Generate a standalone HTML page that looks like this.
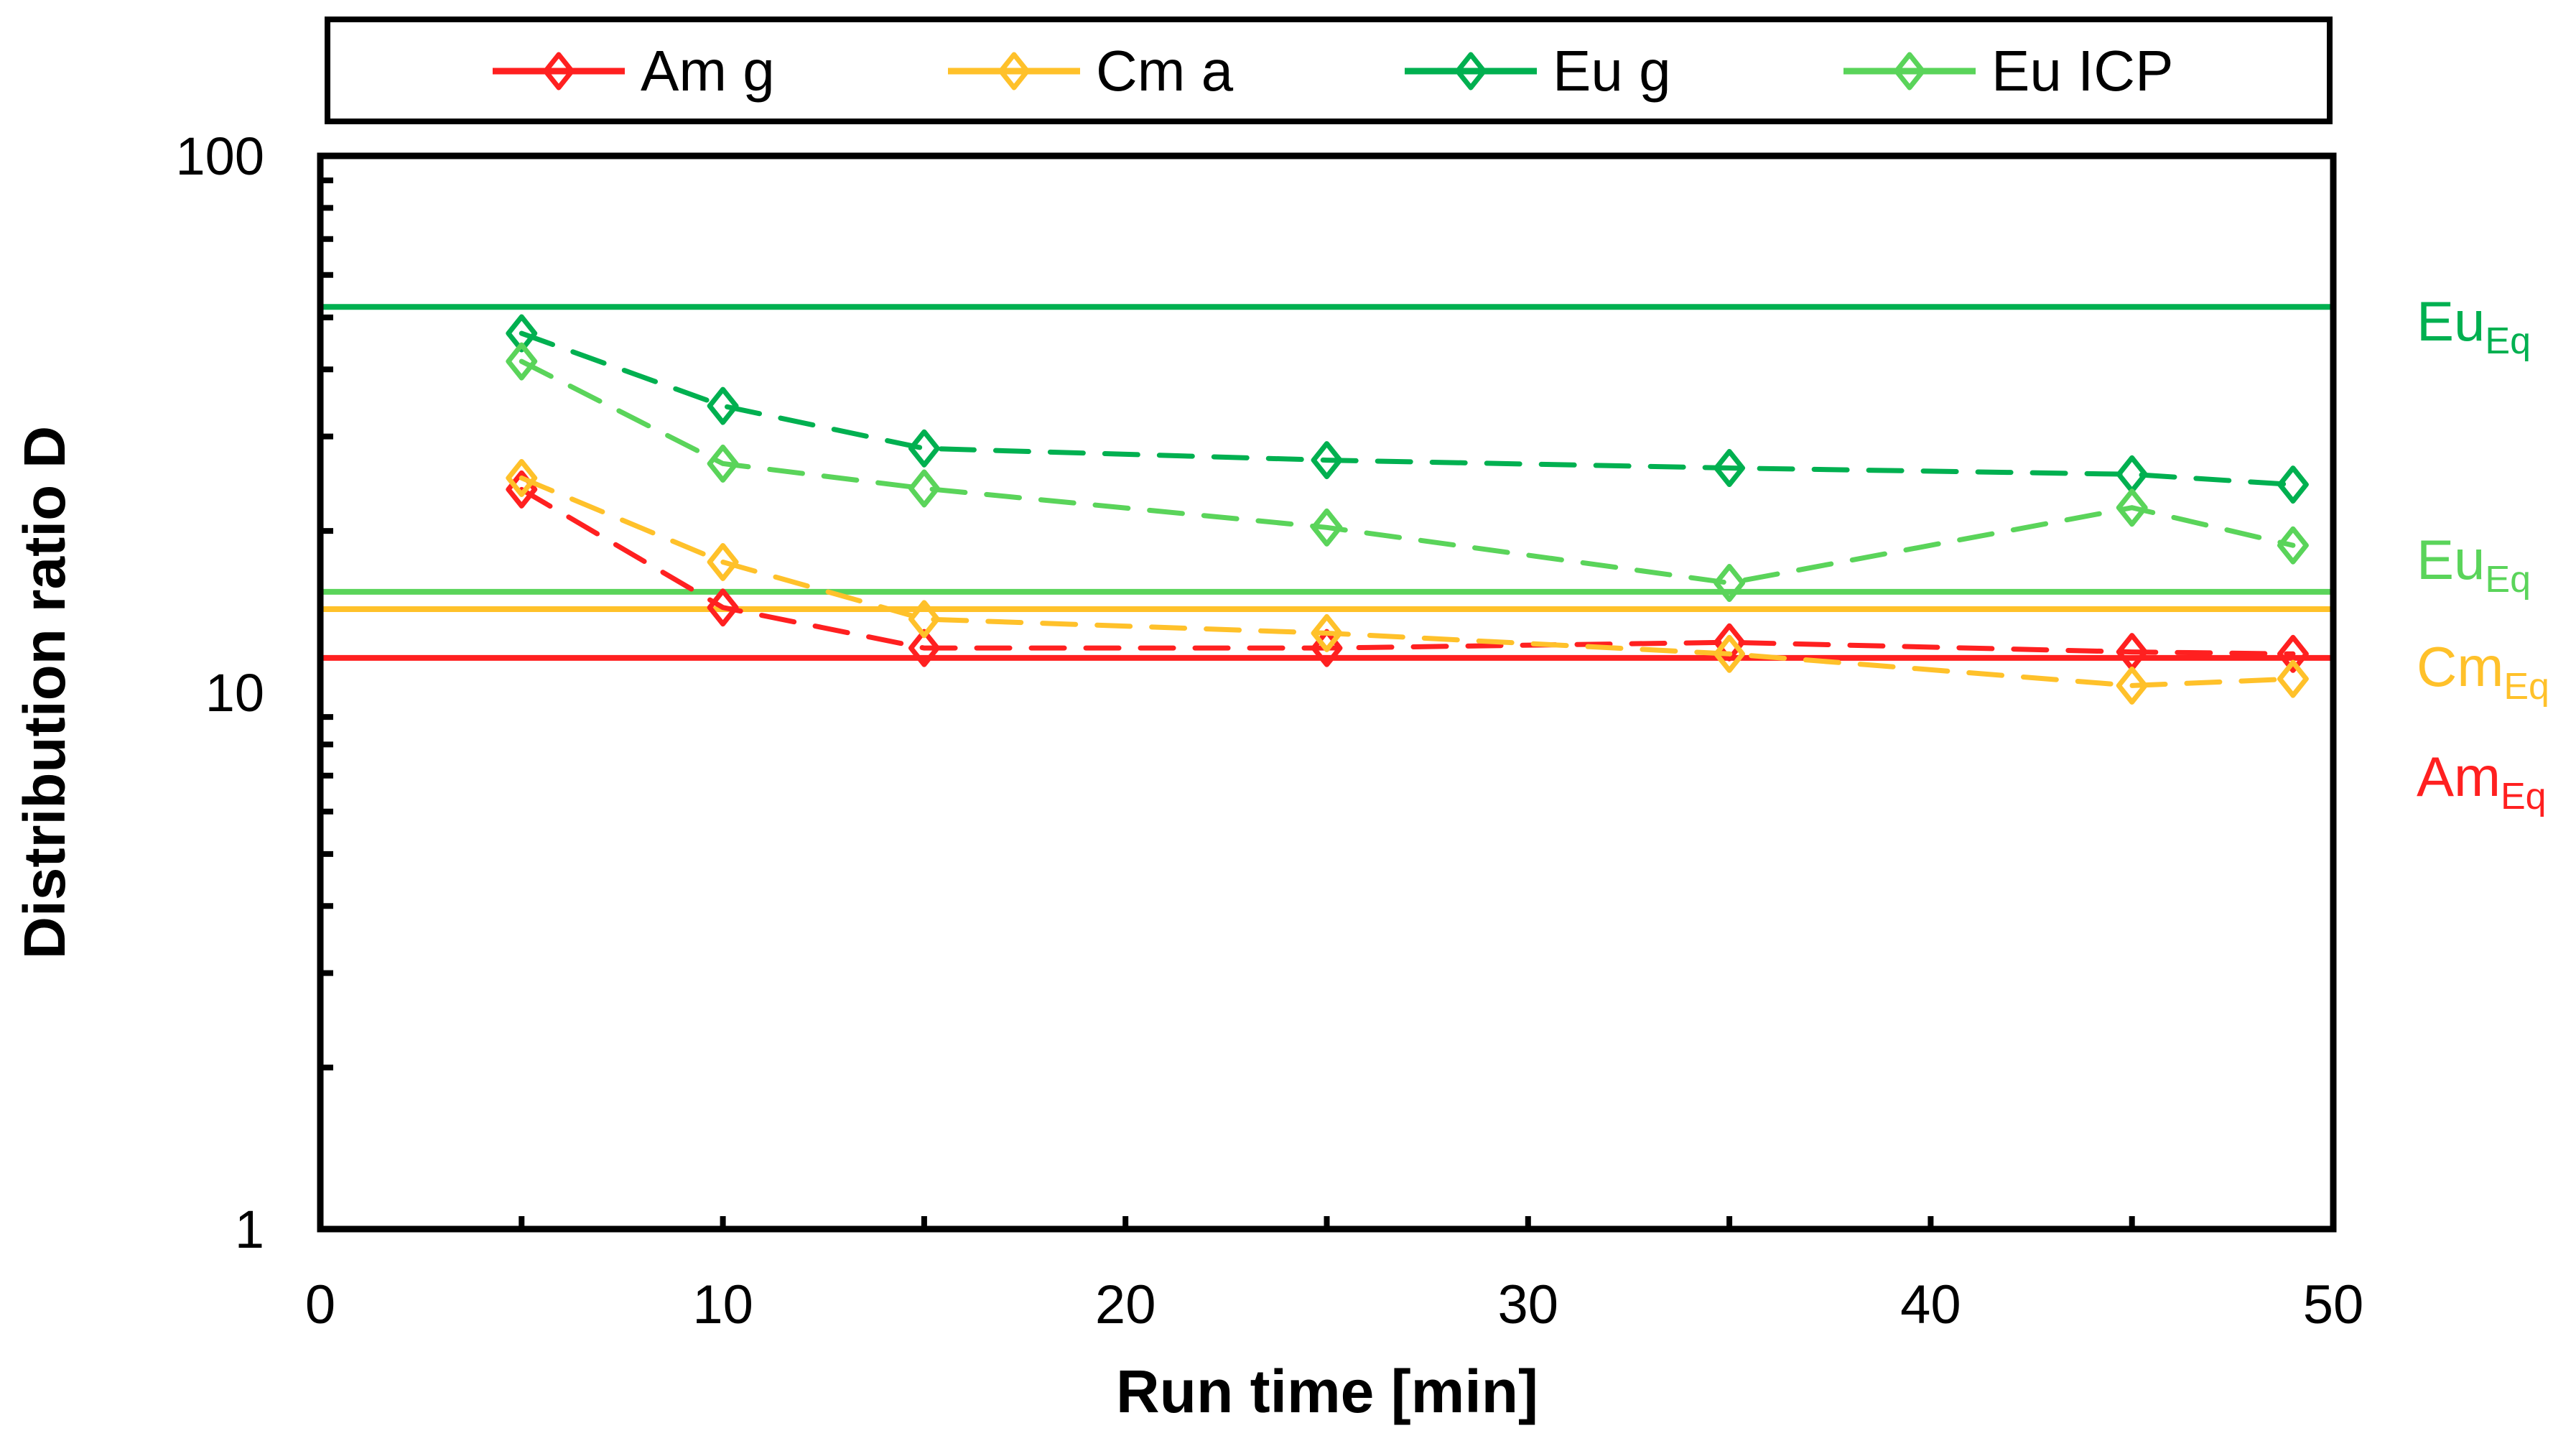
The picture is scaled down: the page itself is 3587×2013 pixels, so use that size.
<!DOCTYPE html>
<html><head><meta charset="utf-8"><style>
html,body{margin:0;padding:0;background:#fff}
svg{display:block;font-family:"Liberation Sans",Arial,sans-serif}
</style></head><body>
<svg id="chart" width="3587" height="2013" viewBox="0 0 3587 2013">
<rect x="456" y="27" width="2788" height="142" fill="#fff" stroke="#000" stroke-width="8"/>
<g id="plot"></g>
</svg>
<script>
const times = [5, 10, 15, 25, 35, 45, 49];
const amG = [23.9, 14.4, 12.1, 12.1, 12.4, 11.9, 11.8];
const cmA = [25.1, 17.5, 13.7, 12.9, 11.8, 10.3, 10.6];
const euG = [46.7, 34.2, 28.5, 27.1, 26.2, 25.5, 24.4];
const euICP = [41.4, 26.7, 24.0, 20.3, 16.0, 22.1, 18.8];
const eqValues = [52.3, 15.4, 14.3, 11.6];
const eqLabelsMain = ["Eu", "Eu", "Cm", "Am"];
const xTicks = [0, 10, 20, 30, 40, 50];
const yTicks = [1, 10, 100];
const seriesNames = ["Am g", "Cm a", "Eu g", "Eu ICP"];

const NS = "http://www.w3.org/2000/svg";
const L = 446, R = 3249, T = 217, B = 1711;
const C = {am: "#ff2020", cm: "#ffc12a", eug: "#00b050", euicp: "#5ad45a"};
const xs = v => L + (v - 0) / 50 * (R - L);
const ys = v => B - (Math.log10(v) - 0) / 2 * (B - T);
const plot = document.getElementById("plot");
function mk(tag, attrs, parent) {
  const e = document.createElementNS(NS, tag);
  for (const k in attrs) e.setAttribute(k, attrs[k]);
  (parent || plot).appendChild(e);
  return e;
}
function diamond(x, y, col, parent) {
  const s = 23;
  return mk("polygon", {points: `${x},${y - s} ${x + s * 0.8},${y} ${x},${y + s} ${x - s * 0.8},${y}`, fill: "none", stroke: col, "stroke-width": 7, "stroke-linejoin": "round"}, parent);
}

const eqColors = [C.eug, C.euicp, C.cm, C.am];
const eqLabelY = [474, 806, 955, 1108];
eqValues.forEach((v, i) => {
  const ln = mk("line", {x1: L, x2: R, y1: ys(v), y2: ys(v), stroke: eqColors[i], "stroke-width": 8});
  
  
  const t = mk("text", {x: 3365, y: eqLabelY[i], fill: eqColors[i], "font-size": 78});
  
  
  t.textContent = eqLabelsMain[i];
  const sub = mk("tspan", {"font-size": 52, dy: 18}, t);
  sub.textContent = "Eq";
});

const series = [[amG, C.am], [cmA, C.cm], [euG, C.eug], [euICP, C.euicp]];
series.forEach(([vals, col], si) => {
  const g = mk("g", {});
  
  
  const pts = times.map((t, i) => xs(t) + "," + ys(vals[i])).join(" ");
  mk("polyline", {points: pts, fill: "none", stroke: col, "stroke-width": 7, "stroke-dasharray": "46 30", "stroke-linecap": "round"}, g);
  times.forEach((t, i) => {
    const d = diamond(xs(t), ys(vals[i]), col, g);
    
    
  });
});

const frame = mk("rect", {x: L, y: T, width: R - L, height: B - T, fill: "none", stroke: "#000", "stroke-width": 9});



for (let d = 0; d < 2; d++) {
  for (let m = 2; m <= 9; m++) {
    const y = ys(m * Math.pow(10, d));
    mk("line", {x1: L, x2: L + 18, y1: y, y2: y, stroke: "#000", "stroke-width": 8});
  }
}
yTicks.forEach(v => {
  const t = mk("text", {x: 368, y: ys(v) + 26, "text-anchor": "end", "font-size": 74});
  
  
  t.textContent = v;
});
for (let v = 5; v < 50; v += 5) {
  mk("line", {x1: xs(v), x2: xs(v), y1: B, y2: B - 18, stroke: "#000", "stroke-width": 8});
}
xTicks.forEach(v => {
  const t = mk("text", {x: xs(v), y: 1842, "text-anchor": "middle", "font-size": 76});
  
  
  t.textContent = v;
});
const xt = mk("text", {x: 1848, y: 1966, "text-anchor": "middle", "font-size": 84, "font-weight": "bold"});


xt.textContent = "Run time [min]";
const yt = mk("text", {x: 0, y: 0, "text-anchor": "middle", "font-size": 82, "font-weight": "bold", transform: "translate(90,964) rotate(-90)"});


yt.textContent = "Distribution  ratio D";

const legX = [686, 1320, 1956, 2567];
const legCols = [C.am, C.cm, C.eug, C.euicp];
const svg = document.getElementById("chart");
seriesNames.forEach((n, i) => {
  const g = mk("g", {}, svg);
  
  
  mk("line", {x1: legX[i], x2: legX[i] + 184, y1: 99, y2: 99, stroke: legCols[i], "stroke-width": 9}, g);
  diamond(legX[i] + 92, 99, legCols[i], g);
  const t = mk("text", {x: legX[i] + 206, y: 126, "font-size": 80}, g);
  t.textContent = n;
});
</script>
</body></html>
